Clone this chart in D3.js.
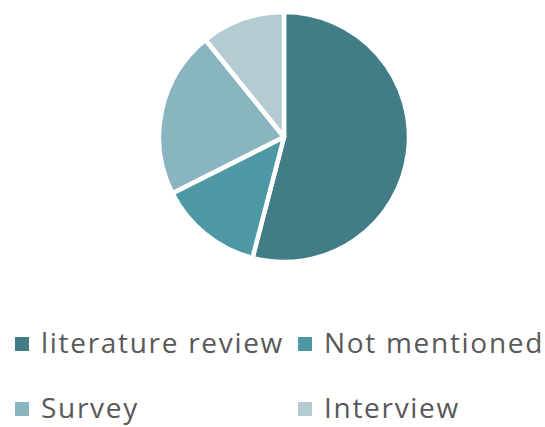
<!DOCTYPE html>
<html><head><meta charset="utf-8">
<script src="https://cdn.jsdelivr.net/npm/d3@7"></script>
<style>body{margin:0;background:#fff}svg{display:block}</style>
</head><body>
<svg id="c" width="545" height="427"></svg>
<script>
const categories = ["literature review", "Not mentioned", "Survey", "Interview"];
const values = [20, 5, 8, 4];
const colors = ["#417c87", "#4c99a5", "#88b5c0", "#b5cbd2"];

const svg = d3.select("#c");
const cx = 284, cy = 137, r = 125;
const pie = d3.pie().sort(null).value(d => d.v);
const arc = d3.arc().innerRadius(0).outerRadius(r);
const data = categories.map((c, i) => ({c, v: values[i], col: colors[i]}));
svg.append("g").attr("transform", `translate(${cx},${cy})`)
  .selectAll("path").data(pie(data)).join("path")
  .attr("d", arc).attr("fill", d => d.data.col)
  .attr("stroke", "#fff").attr("stroke-width", 4.5).attr("stroke-linejoin", "round");

const legPos = [[15, 353], [298, 353], [15, 418], [298, 418]];
const lg = svg.append("g");
data.forEach((d, i) => {
  const [x, y] = legPos[i];
  lg.append("rect").attr("x", x).attr("y", y - 16).attr("width", 14).attr("height", 14).attr("fill", d.col);
  lg.append("text").attr("x", x + 26).attr("y", y)
    .attr("font-family", "'Open Sans', Lato, sans-serif").attr("font-size", 28)
    .attr("letter-spacing", 1.7)
    .attr("fill", "#595959").text(d.c);
});
</script>
</body></html>
